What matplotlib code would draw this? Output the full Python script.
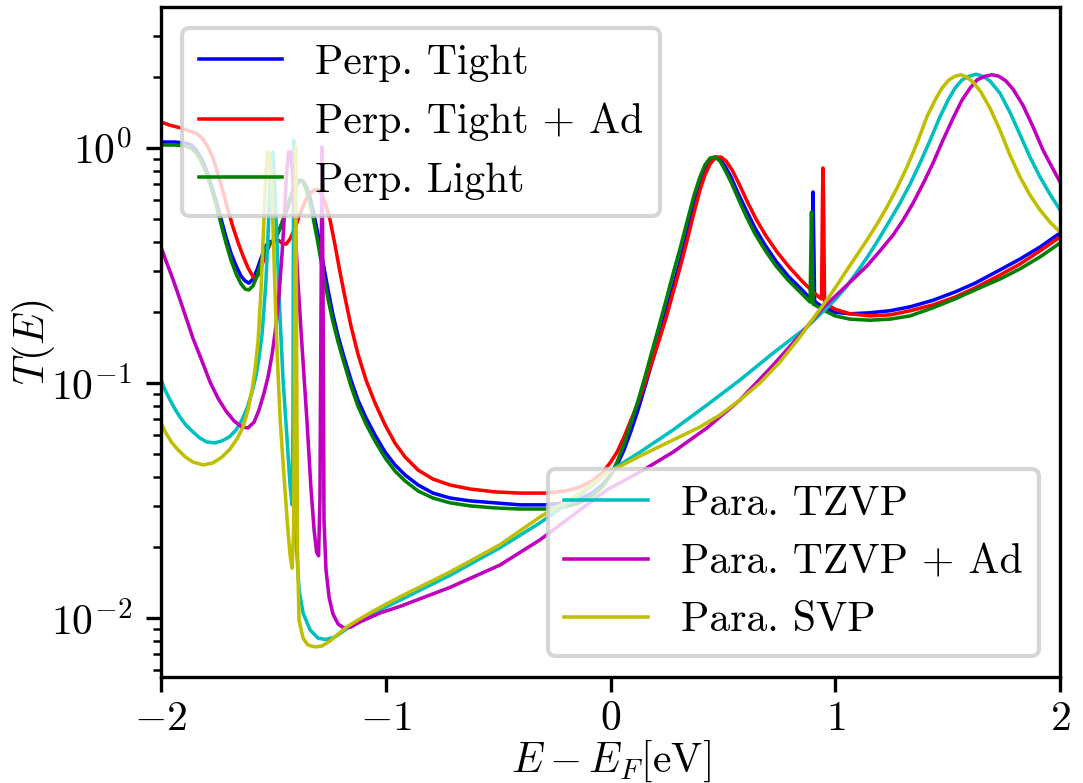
import matplotlib
matplotlib.use("Agg")
import matplotlib.pyplot as plt

plt.rcParams.update({
    "font.family": "serif",
    "font.serif": ["cmr10"],
    "mathtext.fontset": "cm",
    "axes.formatter.use_mathtext": True,
    "font.size": 10,
    "axes.unicode_minus": True,
    "xtick.major.pad": 2.2,
})

# ---- transmission data, perpendicular orientation ----
E_perp_tight = [-2.000, -1.938, -1.893, -1.866, -1.844, -1.822, -1.800, -1.778, -1.755, -1.733,
                -1.711, -1.689, -1.666, -1.644, -1.626, -1.609, -1.591, -1.573, -1.555, -1.537,
                -1.520, -1.502, -1.484, -1.466, -1.448, -1.430, -1.413, -1.395, -1.382, -1.368,
                -1.355, -1.341, -1.324, -1.301, -1.279, -1.257, -1.235, -1.212, -1.186, -1.155,
                -1.124, -1.088, -1.048, -1.003, -0.959, -0.914, -0.856, -0.790, -0.714, -0.625,
                -0.514, -0.403, -0.291, -0.202, -0.136, -0.082, -0.038, -0.002, 0.029, 0.060,
                0.091, 0.122, 0.153, 0.185, 0.216, 0.247, 0.278, 0.309, 0.340, 0.372,
                0.398, 0.420, 0.443, 0.465, 0.487, 0.509, 0.536, 0.567, 0.603, 0.643,
                0.687, 0.736, 0.790, 0.843, 0.879, 0.894, 0.901, 0.908, 0.923, 0.954,
                0.999, 1.065, 1.154, 1.244, 1.333, 1.435, 1.533, 1.622, 1.733, 1.822,
                1.911, 2.000]
T_perp_tight = [1.06, 1.06, 1.05, 1.03, 0.981, 0.907, 0.814, 0.703, 0.595, 0.499,
                0.418, 0.357, 0.315, 0.285, 0.272, 0.266, 0.277, 0.303, 0.340, 0.379,
                0.398, 0.402, 0.426, 0.466, 0.519, 0.583, 0.650, 0.703, 0.724, 0.724,
                0.689, 0.637, 0.545, 0.426, 0.324, 0.249, 0.195, 0.158, 0.129, 0.103,
                0.0847, 0.0710, 0.0601, 0.0508, 0.0448, 0.0406, 0.0368, 0.0340, 0.0324, 0.0315,
                0.0309, 0.0303, 0.0303, 0.0309, 0.0321, 0.0340, 0.0368, 0.0402, 0.0448, 0.0519,
                0.0625, 0.0767, 0.0962, 0.123, 0.155, 0.200, 0.256, 0.327, 0.426, 0.572,
                0.696, 0.798, 0.880, 0.915, 0.898, 0.838, 0.753, 0.643, 0.545, 0.456,
                0.387, 0.330, 0.285, 0.254, 0.234, 0.228, 0.650, 0.223, 0.217, 0.209,
                0.200, 0.197, 0.199, 0.203, 0.211, 0.225, 0.244, 0.266, 0.303, 0.337,
                0.379, 0.435]

E_perp_tight_ad = [-2.000, -1.960, -1.916, -1.871, -1.840, -1.813, -1.791, -1.769, -1.747, -1.724,
                   -1.702, -1.680, -1.658, -1.635, -1.613, -1.595, -1.582, -1.568, -1.551, -1.533,
                   -1.515, -1.497, -1.479, -1.462, -1.444, -1.426, -1.404, -1.382, -1.359, -1.337,
                   -1.319, -1.301, -1.284, -1.266, -1.248, -1.226, -1.204, -1.181, -1.155, -1.124,
                   -1.088, -1.048, -1.003, -0.959, -0.914, -0.856, -0.790, -0.714, -0.625, -0.514,
                   -0.403, -0.291, -0.202, -0.136, -0.082, -0.038, -0.002, 0.029, 0.060, 0.091,
                   0.122, 0.153, 0.185, 0.216, 0.247, 0.278, 0.309, 0.340, 0.372, 0.398,
                   0.420, 0.443, 0.469, 0.492, 0.514, 0.541, 0.572, 0.607, 0.647, 0.692,
                   0.741, 0.794, 0.848, 0.897, 0.928, 0.939, 0.943, 0.945, 0.948, 0.952,
                   0.968, 0.999, 1.065, 1.154, 1.244, 1.333, 1.435, 1.533, 1.622, 1.733,
                   1.822, 1.911, 2.000]
T_perp_tight_ad = [1.29, 1.25, 1.22, 1.18, 1.15, 1.09, 1.01, 0.907, 0.775, 0.650,
                   0.545, 0.461, 0.398, 0.347, 0.309, 0.288, 0.277, 0.288, 0.318, 0.357,
                   0.390, 0.406, 0.406, 0.394, 0.390, 0.410, 0.456, 0.524, 0.595, 0.643,
                   0.663, 0.663, 0.631, 0.572, 0.494, 0.387, 0.297, 0.230, 0.175, 0.133,
                   0.103, 0.0822, 0.0663, 0.0555, 0.0484, 0.0426, 0.0390, 0.0368, 0.0354, 0.0344,
                   0.0340, 0.0340, 0.0347, 0.0361, 0.0383, 0.0414, 0.0457, 0.0508, 0.0589, 0.0696,
                   0.0822, 0.100, 0.123, 0.152, 0.189, 0.242, 0.309, 0.402, 0.534, 0.663,
                   0.767, 0.855, 0.915, 0.915, 0.880, 0.806, 0.703, 0.595, 0.499, 0.422,
                   0.361, 0.312, 0.274, 0.246, 0.232, 0.228, 0.601, 0.822, 0.601, 0.223,
                   0.215, 0.206, 0.197, 0.193, 0.195, 0.203, 0.215, 0.232, 0.254, 0.288,
                   0.321, 0.365, 0.418]

E_perp_light = [-2.000, -1.938, -1.893, -1.866, -1.844, -1.822, -1.800, -1.778, -1.755, -1.733,
                -1.711, -1.689, -1.666, -1.644, -1.626, -1.609, -1.591, -1.573, -1.555, -1.537,
                -1.520, -1.502, -1.484, -1.466, -1.448, -1.430, -1.413, -1.395, -1.382, -1.368,
                -1.355, -1.341, -1.324, -1.301, -1.279, -1.257, -1.235, -1.212, -1.186, -1.155,
                -1.124, -1.088, -1.048, -1.003, -0.959, -0.914, -0.856, -0.790, -0.714, -0.625,
                -0.514, -0.403, -0.291, -0.202, -0.136, -0.082, -0.038, -0.002, 0.029, 0.060,
                0.091, 0.122, 0.153, 0.185, 0.216, 0.247, 0.278, 0.309, 0.340, 0.372,
                0.398, 0.420, 0.443, 0.465, 0.487, 0.509, 0.536, 0.567, 0.603, 0.643,
                0.687, 0.736, 0.790, 0.843, 0.870, 0.888, 0.894, 0.901, 0.923, 0.954,
                0.999, 1.065, 1.154, 1.244, 1.333, 1.435, 1.533, 1.622, 1.733, 1.822,
                1.911, 2.000]
T_perp_light = [1.03, 1.03, 1.02, 1.00, 0.952, 0.880, 0.790, 0.683, 0.572, 0.475,
                0.394, 0.334, 0.291, 0.264, 0.251, 0.249, 0.259, 0.285, 0.324, 0.368,
                0.390, 0.398, 0.426, 0.470, 0.529, 0.595, 0.663, 0.717, 0.731, 0.717,
                0.669, 0.607, 0.509, 0.390, 0.294, 0.228, 0.182, 0.149, 0.122, 0.0971,
                0.0798, 0.0669, 0.0566, 0.0480, 0.0422, 0.0383, 0.0347, 0.0324, 0.0309, 0.0300,
                0.0294, 0.0291, 0.0291, 0.0297, 0.0309, 0.0330, 0.0361, 0.0402, 0.0461, 0.0550,
                0.0676, 0.0838, 0.106, 0.137, 0.175, 0.225, 0.291, 0.372, 0.484, 0.631,
                0.753, 0.847, 0.907, 0.915, 0.880, 0.806, 0.717, 0.613, 0.514, 0.431,
                0.368, 0.315, 0.274, 0.244, 0.230, 0.221, 0.534, 0.217, 0.211, 0.203,
                0.193, 0.187, 0.185, 0.187, 0.193, 0.209, 0.228, 0.249, 0.277, 0.306,
                0.344, 0.394]

# ---- transmission data, parallel orientation ----
E_para_tzvp = [-2.000, -1.982, -1.960, -1.938, -1.916, -1.889, -1.858, -1.827, -1.796, -1.760,
               -1.729, -1.697, -1.666, -1.640, -1.617, -1.595, -1.577, -1.564, -1.551, -1.542,
               -1.533, -1.524, -1.515, -1.508, -1.502, -1.495, -1.488, -1.479, -1.470, -1.457,
               -1.439, -1.426, -1.417, -1.413, -1.410, -1.406, -1.399, -1.386, -1.368, -1.337,
               -1.301, -1.266, -1.226, -1.181, -1.128, -1.070, -1.003, -0.937, -0.714, -0.492,
               -0.314, -0.136, -0.016, 0.131, 0.278, 0.429, 0.576, 0.723, 0.874, 0.999,
               1.048, 1.097, 1.146, 1.199, 1.244, 1.288, 1.333, 1.377, 1.422, 1.466,
               1.502, 1.533, 1.564, 1.595, 1.626, 1.657, 1.688, 1.733, 1.777, 1.822,
               1.866, 1.911, 1.955, 2.000]
T_para_tzvp = [0.103, 0.0934, 0.0847, 0.0775, 0.0717, 0.0662, 0.0619, 0.0583, 0.0561, 0.0556,
               0.0567, 0.0589, 0.0631, 0.0696, 0.0783, 0.0916, 0.108, 0.128, 0.160, 0.205,
               0.274, 0.426, 0.696, 0.934, 0.962, 0.767, 0.494, 0.303, 0.185, 0.103,
               0.0572, 0.0368, 0.0303, 0.0696, 1.08, 0.0696, 0.0215, 0.0132, 0.0105, 0.0089,
               0.0082, 0.0081, 0.0083, 0.0089, 0.0096, 0.0103, 0.0111, 0.0119, 0.0152, 0.0199,
               0.0254, 0.0334, 0.0414, 0.0508, 0.0631, 0.0806, 0.103, 0.134, 0.173, 0.226,
               0.256, 0.297, 0.347, 0.418, 0.494, 0.583, 0.703, 0.863, 1.08, 1.36,
               1.60, 1.80, 1.95, 2.02, 2.06, 2.02, 1.93, 1.71, 1.42, 1.14,
               0.916, 0.753, 0.637, 0.545]

E_para_tzvp_ad = [-2.000, -1.978, -1.951, -1.924, -1.893, -1.858, -1.822, -1.782, -1.747, -1.711,
                  -1.675, -1.640, -1.613, -1.586, -1.564, -1.542, -1.524, -1.506, -1.488, -1.475,
                  -1.462, -1.450, -1.442, -1.433, -1.424, -1.415, -1.404, -1.390, -1.373, -1.351,
                  -1.333, -1.319, -1.308, -1.299, -1.293, -1.288, -1.284, -1.279, -1.275, -1.266,
                  -1.252, -1.235, -1.212, -1.186, -1.155, -1.115, -1.026, -0.937, -0.714, -0.492,
                  -0.314, -0.136, -0.016, 0.131, 0.278, 0.429, 0.576, 0.723, 0.843, 0.945,
                  1.043, 1.141, 1.199, 1.257, 1.302, 1.346, 1.390, 1.435, 1.479,
                  1.524, 1.564, 1.600, 1.631, 1.666, 1.697, 1.728, 1.759, 1.791, 1.835,
                  1.880, 1.924, 1.964, 2.000]
T_para_tzvp_ad = [0.379, 0.331, 0.283, 0.239, 0.195, 0.155, 0.127, 0.101, 0.0863, 0.0760,
                  0.0689, 0.0650, 0.0644, 0.0682, 0.0768, 0.0906, 0.106, 0.132, 0.177, 0.237,
                  0.351, 0.534, 0.767, 0.962, 0.962, 0.791, 0.470, 0.261, 0.145, 0.0696,
                  0.0357, 0.0237, 0.0191, 0.0184, 0.0318, 0.226, 1.01, 0.226, 0.0261, 0.0160,
                  0.0122, 0.0104, 0.00942, 0.00906, 0.00916, 0.00962, 0.0105, 0.0112, 0.0135, 0.0168,
                  0.0215, 0.0288, 0.0351, 0.0418, 0.0508, 0.0644, 0.0847, 0.119, 0.160, 0.209,
                  0.256, 0.315, 0.365, 0.426, 0.494, 0.583, 0.703, 0.863, 1.08,
                  1.34, 1.60, 1.80, 1.95, 2.02, 2.05, 2.02, 1.93, 1.78, 1.52,
                  1.23, 0.981, 0.830, 0.717]

E_para_svp = [-2.000, -1.978, -1.951, -1.924, -1.891, -1.858, -1.813, -1.769, -1.729, -1.693,
              -1.662, -1.635, -1.613, -1.595, -1.582, -1.568, -1.555, -1.544, -1.535, -1.526,
              -1.517, -1.508, -1.502, -1.493, -1.484, -1.470, -1.457, -1.439, -1.426, -1.417,
              -1.410, -1.406, -1.401, -1.397, -1.393, -1.386, -1.368, -1.346, -1.315, -1.284,
              -1.248, -1.212, -1.173, -1.124, -1.070, -1.003, -0.937, -0.714, -0.492, -0.314,
              -0.136, -0.016, 0.131, 0.278, 0.398, 0.487, 0.576, 0.665, 0.754, 0.843,
              0.910, 0.963, 1.008, 1.052, 1.097, 1.141, 1.186, 1.230, 1.275, 1.319,
              1.364, 1.408, 1.444, 1.475, 1.506, 1.533, 1.560, 1.586, 1.617, 1.648,
              1.688, 1.733, 1.777, 1.822, 1.866, 1.911, 1.955, 2.000]
T_para_svp = [0.0676, 0.0612, 0.0556, 0.0519, 0.0484, 0.0461, 0.0448, 0.0457, 0.0484, 0.0524,
              0.0578, 0.0650, 0.0768, 0.0934, 0.114, 0.152, 0.249, 0.448, 0.731, 0.962,
              0.934, 0.731, 0.470, 0.249, 0.138, 0.0696, 0.0457, 0.0261, 0.0185, 0.0163,
              0.0237, 0.138, 1.01, 0.168, 0.0195, 0.0098, 0.0082, 0.00767, 0.00753, 0.00760,
              0.00798, 0.00855, 0.00916, 0.0098, 0.0105, 0.0114, 0.0123, 0.0157, 0.0205, 0.0269,
              0.0340, 0.0414, 0.0489, 0.0572, 0.0650, 0.0731, 0.0847, 0.100, 0.123, 0.157,
              0.193, 0.226, 0.261, 0.303, 0.351, 0.406, 0.475, 0.561, 0.676, 0.830,
              1.05, 1.36, 1.60, 1.80, 1.95, 2.02, 2.05, 2.00, 1.89, 1.73,
              1.48, 1.19, 0.934, 0.753, 0.631, 0.545, 0.484, 0.439]

perp_labels = ["Perp. Tight", "Perp. Tight + Ad", "Perp. Light"]
para_labels = ["Para. TZVP", "Para. TZVP + Ad", "Para. SVP"]
x_ticks = [-2, -1, 0, 1, 2]

fig = plt.figure(figsize=(3.61, 2.61), dpi=300)
ax = fig.add_axes([0.1487, 0.1354, 0.9788 - 0.1487, 0.991 - 0.1354])

lw = 0.85
perp = []
perp += ax.plot(E_perp_tight, T_perp_tight, color="b", lw=lw, label=perp_labels[0])
perp += ax.plot(E_perp_tight_ad, T_perp_tight_ad, color="r", lw=lw, label=perp_labels[1])
perp += ax.plot(E_perp_light, T_perp_light, color="g", lw=lw, label=perp_labels[2])
para = []
para += ax.plot(E_para_tzvp, T_para_tzvp, color="c", lw=lw, label=para_labels[0])
para += ax.plot(E_para_tzvp_ad, T_para_tzvp_ad, color="m", lw=lw, label=para_labels[1])
para += ax.plot(E_para_svp, T_para_svp, color="y", lw=lw, label=para_labels[2])

ax.set_yscale("log")
ax.set_xlim(-2, 2)
ax.set_ylim(0.00561, 3.98)
ax.set_xticks(x_ticks)
ax.set_xlabel(r"$E - E_F [\mathrm{eV}]$")
ax.set_ylabel(r"$T(E)$")
ax.xaxis.set_label_coords(0.5, -0.0925)
ax.yaxis.set_label_coords(-0.116, 0.5)

leg1 = ax.legend(handles=perp, loc="upper left")
ax.add_artist(leg1)
ax.legend(handles=para, loc="lower right")

fig.savefig("out.png", dpi=300)
